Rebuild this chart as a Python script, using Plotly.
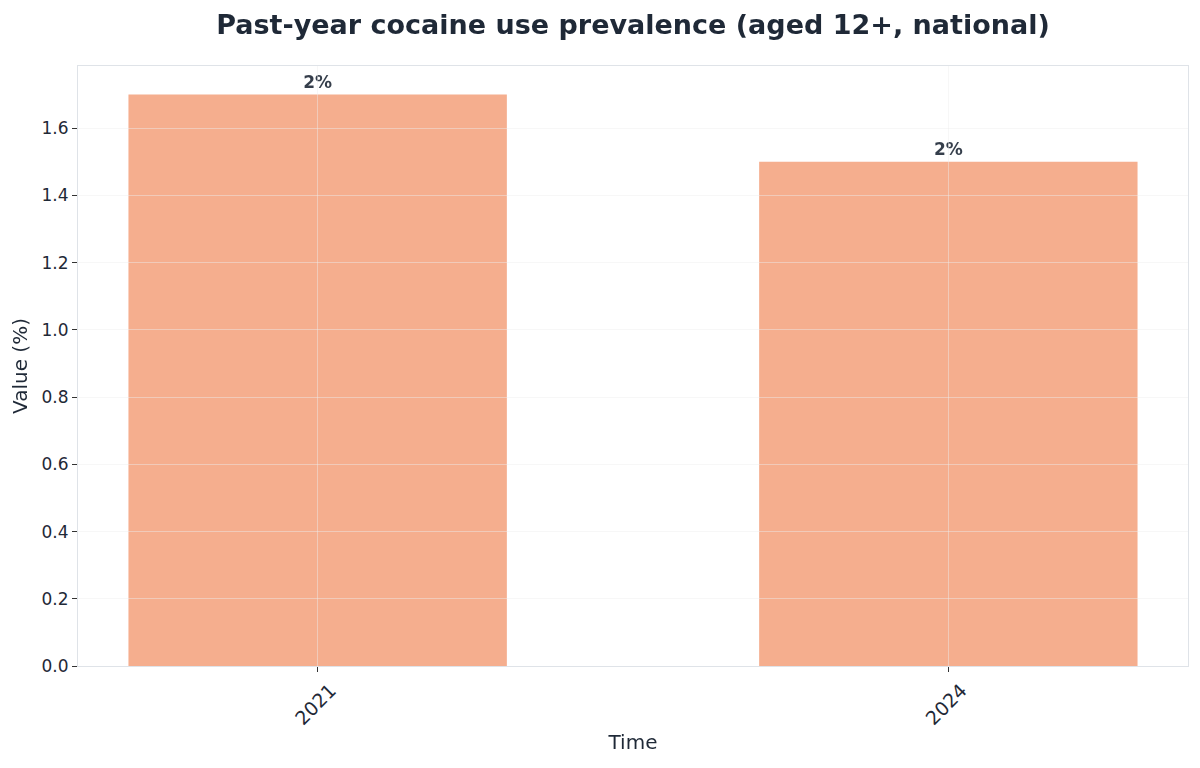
import plotly.graph_objects as go

# data
years = ["2021", "2024"]
values = [1.7, 1.5]
labels = ["2%", "2%"]

grid_col = "rgba(238,238,238,0.45)"

fig = go.Figure()
fig.add_trace(go.Bar(
    x=years, y=values, text=labels,
    textposition="outside", cliponaxis=False,
    textfont=dict(family="DejaVu Sans", size=17, color="#1f2937", weight="bold"),
    marker=dict(color="#f4a582", line=dict(width=0)),
    opacity=0.9, width=0.6, hoverinfo="x+y",
))
# second subplot on the same domain, only used to draw the grid above the bars
fig.add_trace(go.Scatter(
    x=years, y=values, mode="none", xaxis="x2", yaxis="y2",
    hoverinfo="skip", showlegend=False,
))

fig.update_layout(
    width=1200, height=768,
    title=dict(text="<b>Past-year cocaine use prevalence (aged 12+, national)</b>",
               xref="paper", x=0.5, xanchor="center", y=0.979, yanchor="middle",
               font=dict(family="DejaVu Sans", size=27, color="#1f2937")),
    font=dict(family="DejaVu Sans", color="#1f2937"),
    plot_bgcolor="rgba(0,0,0,0)", paper_bgcolor="white",
    margin=dict(l=70, r=20, t=58, b=110),
    showlegend=False,
    xaxis=dict(
        type="category", range=[-0.38, 1.38],
        title=dict(text="Time", font=dict(size=20), standoff=6),
        tickangle=-45, tickfont=dict(size=19), ticklabelshift=13,
        ticks="outside", ticklen=5, tickcolor="#333",
        showgrid=False,
        showline=True, linecolor="#dfe3e8", mirror=True,
    ),
    yaxis=dict(
        range=[0, 1.785], dtick=0.2, tickformat=".1f",
        title=dict(text="Value (%)", font=dict(size=20), standoff=8),
        tickfont=dict(size=17),
        ticks="outside", ticklen=5, tickcolor="#333",
        showgrid=False,
        showline=True, linecolor="#dfe3e8", mirror=True,
        zeroline=False,
    ),
    xaxis2=dict(type="category", range=[-0.38, 1.38], anchor="y2",
                showgrid=True, gridcolor=grid_col, gridwidth=1,
                showticklabels=False, ticks="", showline=False, zeroline=False),
    yaxis2=dict(range=[0, 1.785], dtick=0.2, anchor="x2",
                showgrid=True, gridcolor=grid_col, gridwidth=1,
                showticklabels=False, ticks="", showline=False, zeroline=False),
)

fig.write_html("out.html")
